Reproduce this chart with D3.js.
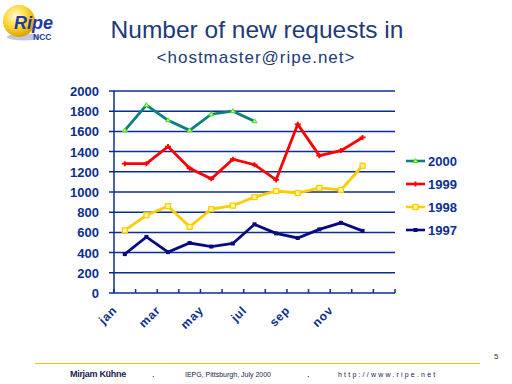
<!DOCTYPE html>
<html>
<head>
<meta charset="utf-8">
<script src="https://cdn.jsdelivr.net/npm/d3@7"></script>
<style>
  body { margin: 0; background: #fff; }
  svg { display: block; font-family: "Liberation Sans", Arial, sans-serif; }
</style>
</head>
<body>
<div id="chart-area"></div>
<script>
// data
const months = ["jan","feb","mar","apr","may","jun","jul","aug","sep","oct","nov","dec",""]
const tickLabels = ["jan","","mar","","may","","jul","","sep","","nov","",""]
const yTicks = [0,200,400,600,800,1000,1200,1400,1600,1800,2000]
const years = ["2000","1999","1998","1997"]
const v2000 = [1610,1860,1710,1610,1770,1800,1700]
const v1999 = [1280,1280,1450,1235,1130,1325,1270,1120,1670,1360,1410,1540]
const v1998 = [620,770,860,655,830,865,950,1010,990,1040,1020,1260]
const v1997 = [385,555,405,495,460,490,680,590,545,630,695,615]

const navy = "#0b2f8f"

const svg = d3.select("#chart-area").append("svg")
    .attr("width", 512)
    .attr("height", 384)

// logo
const defs = svg.append("defs")
const grad = defs.append("radialGradient").attr("id", "ball")
    .attr("cx", "40%").attr("cy", "35%").attr("r", "65%")
grad.append("stop").attr("offset", "0%").attr("stop-color", "#fffbe0")
grad.append("stop").attr("offset", "55%").attr("stop-color", "#ffd835")
grad.append("stop").attr("offset", "100%").attr("stop-color", "#d9a400")
svg.append("ellipse").attr("cx", 24).attr("cy", 37).attr("rx", 17).attr("ry", 3.5)
    .attr("fill", "#9aa4d0").attr("opacity", 0.6)
svg.append("circle").attr("cx", 19).attr("cy", 21).attr("r", 16).attr("fill", "url(#ball)")
svg.append("text").attr("x", 14).attr("y", 29).text("Ripe")
    .attr("font-size", 18).attr("font-weight", "bold").attr("font-style", "italic")
    .attr("fill", "#1f3aa0")
svg.append("text").attr("x", 33).attr("y", 40).text("NCC")
    .attr("font-size", 8.5).attr("font-weight", "bold").attr("fill", "#1f3aa0")

// title
svg.append("text").attr("x", 257).attr("y", 38).attr("text-anchor", "middle")
    .attr("font-size", 24.5).attr("fill", "#203a78").text("Number of new requests in")
svg.append("text").attr("x", 256).attr("y", 63).attr("text-anchor", "middle")
    .attr("font-size", 17).attr("fill", "#203a78").attr("letter-spacing", 1)
    .text("<hostmaster@ripe.net>")

// scales
const x = d3.scaleBand().domain(months).range([114, 395])
const y = d3.scaleLinear().domain([0, 2000]).range([293, 91])

// gridlines
svg.append("g").selectAll("line").data(yTicks).join("line")
    .attr("x1", 109).attr("x2", 395)
    .attr("y1", d => y(d)).attr("y2", d => y(d))
    .attr("stroke", navy).attr("stroke-width", 1.5)

// y axis line + labels
svg.append("line").attr("x1", 114).attr("x2", 114).attr("y1", y(2000)).attr("y2", y(0))
    .attr("stroke", navy).attr("stroke-width", 1.5)
svg.append("g").selectAll("text").data(yTicks).join("text")
    .attr("x", 99).attr("y", d => y(d) + 5)
    .attr("text-anchor", "end").attr("font-size", 13).attr("font-weight", "bold")
    .attr("fill", navy).text(d => d)

// x ticks at band edges
const edges = months.map(m => x(m)).concat([x.range()[1]])
svg.append("g").selectAll("line").data(edges).join("line")
    .attr("x1", d => d).attr("x2", d => d).attr("y1", y(0) - 4).attr("y2", y(0))
    .attr("stroke", navy).attr("stroke-width", 1.5)

svg.append("g").selectAll("text").data(months).join("text")
    .attr("transform", d => `translate(${x(d) + x.bandwidth() / 2 - 7},${y(0) + 18}) rotate(-45)`)
    .attr("text-anchor", "end").attr("font-size", 12).attr("font-weight", "bold")
    .attr("fill", navy).attr("letter-spacing", 0.8)
    .text((d, i) => tickLabels[i])

// series
const cx = i => x(months[i]) + x.bandwidth() / 2
const line = d3.line().x((d, i) => cx(i)).y(d => y(d))
const series = [
  { name: years[0], vals: v2000, color: "#0a8080", mark: "tri", mcolor: "#44dd22" },
  { name: years[1], vals: v1999, color: "#ff0000", mark: "plus", mcolor: "#ff0000" },
  { name: years[2], vals: v1998, color: "#ffcc00", mark: "sq", mcolor: "#ffcc00" },
  { name: years[3], vals: v1997, color: "#0a0a80", mark: "dot", mcolor: "#0a0a80" }
]

function marker(g, s, px, py) {
  if (s.mark === "tri") {
    g.append("path").attr("d", `M${px},${py - 2.5}L${px + 2.5},${py + 1.5}L${px - 2.5},${py + 1.5}Z`)
      .attr("fill", "#ccff66").attr("stroke", s.mcolor).attr("stroke-width", 1)
  } else if (s.mark === "plus") {
    g.append("path").attr("d", `M${px - 3},${py}H${px + 3}M${px},${py - 2.5}V${py + 2.5}`)
      .attr("stroke", s.mcolor).attr("stroke-width", 1.8)
  } else if (s.mark === "sq") {
    g.append("rect").attr("x", px - 2.5).attr("y", py - 2.5).attr("width", 5).attr("height", 5)
      .attr("fill", "#fff8a0").attr("stroke", s.mcolor).attr("stroke-width", 1.3)
  } else {
    g.append("rect").attr("x", px - 2).attr("y", py - 2).attr("width", 4).attr("height", 4)
      .attr("fill", s.mcolor)
  }
}

series.slice().reverse().forEach(s => {
  const g = svg.append("g")
  g.append("path").datum(s.vals).attr("d", line)
    .attr("fill", "none").attr("stroke", s.color).attr("stroke-width", 2.8)
  s.vals.forEach((v, i) => marker(g, s, cx(i), y(v)))
})

// legend
series.forEach((s, i) => {
  const ly = 161 + i * 23
  const g = svg.append("g")
  g.append("line").attr("x1", 406).attr("x2", 425).attr("y1", ly).attr("y2", ly)
    .attr("stroke", s.color).attr("stroke-width", 2.6)
  marker(g, s, 415.5, ly)
  g.append("text").attr("x", 428).attr("y", ly + 5).text(s.name)
    .attr("font-size", 13).attr("font-weight", "bold").attr("fill", navy)
})

// footer
svg.append("line").attr("x1", 35).attr("x2", 480).attr("y1", 363.5).attr("y2", 363.5)
    .attr("stroke", "#f2c400").attr("stroke-width", 1.2)
svg.append("text").attr("x", 494).attr("y", 359).text("5")
    .attr("font-size", 8).attr("fill", "#333")
svg.append("text").attr("x", 70).attr("y", 377).text("Mirjam Kühne")
    .attr("font-size", 9).attr("font-weight", "bold").attr("fill", "#202050").attr("letter-spacing", -0.3)
svg.append("text").attr("x", 152).attr("y", 377).text(".").attr("font-size", 9).attr("fill", "#202050")
svg.append("text").attr("x", 185).attr("y", 377).text("IEPG, Pittsburgh, July 2000")
    .attr("font-size", 7).attr("fill", "#202050")
svg.append("text").attr("x", 307).attr("y", 377).text(".").attr("font-size", 9).attr("fill", "#202050")
svg.append("text").attr("x", 338).attr("y", 377).text("http://www.ripe.net")
    .attr("font-size", 7).attr("fill", "#202050").attr("letter-spacing", 2.2)
</script>
</body>
</html>
